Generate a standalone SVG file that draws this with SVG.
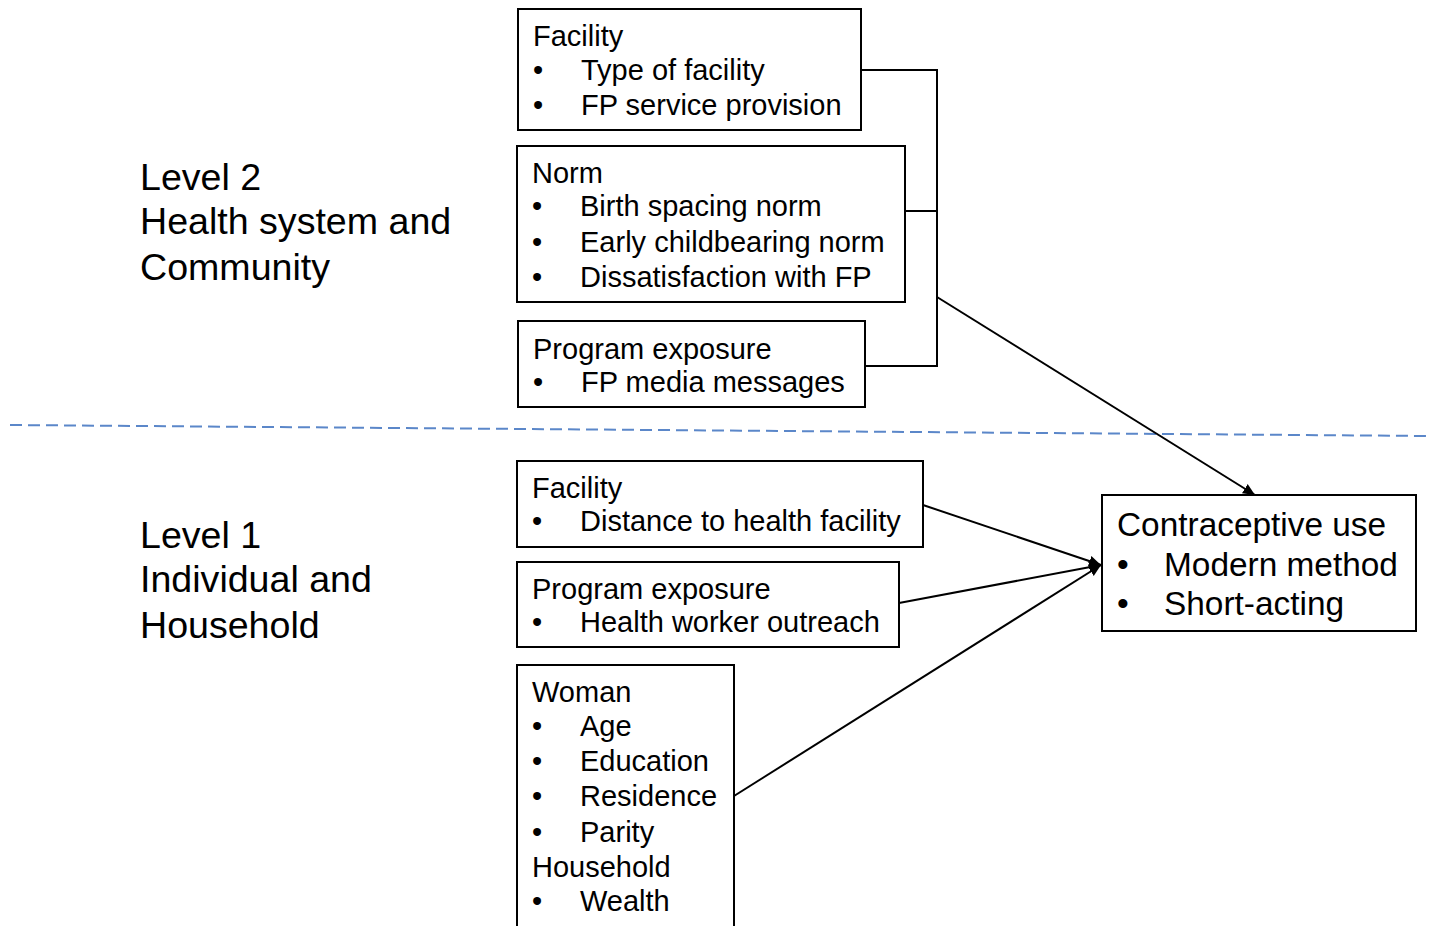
<svg xmlns="http://www.w3.org/2000/svg" width="1429" height="926" viewBox="0 0 1429 926">
<defs>
<style>
text{font-family:"Liberation Sans",Arial,sans-serif;fill:#000}
.b{font-size:29px}
.c{font-size:33.4px}
.l{font-size:37.6px}
.box{fill:#fff;stroke:#000;stroke-width:2}
.con{fill:none;stroke:#000;stroke-width:2}
</style>
<marker id="ah" viewBox="0 0 10 10" refX="10" refY="5" markerWidth="12" markerHeight="12" markerUnits="userSpaceOnUse" orient="auto"><path d="M0,0.5L10,5L0,9.5z" fill="#000"/></marker>
</defs>
<rect width="1429" height="926" fill="#fff"/>
<line x1="10" y1="425" x2="1429" y2="436" stroke="#5B87C9" stroke-width="2" stroke-dasharray="12,6"/>
<g id="labels">
<text class="l" x="140" y="190">Level 2</text>
<text class="l" x="140" y="234">Health system and</text>
<text class="l" x="140" y="280">Community</text>
<text class="l" x="140" y="548">Level 1</text>
<text class="l" x="140" y="592">Individual and</text>
<text class="l" x="140" y="638">Household</text>
</g>
<g id="connectors">
<polyline class="con" points="861,70 937,70 937,366 865,366"/>
<line class="con" x1="905" y1="211" x2="937" y2="211"/>
<line class="con" x1="937" y1="297" x2="1255" y2="495" marker-end="url(#ah)"/>
<line class="con" x1="923" y1="505" x2="1101" y2="565" marker-end="url(#ah)"/>
<line class="con" x1="899" y1="603" x2="1101" y2="565" marker-end="url(#ah)"/>
<line class="con" x1="734" y1="796" x2="1101" y2="565" marker-end="url(#ah)"/>
</g>
<g id="facility2">
<rect class="box" x="518" y="9" width="343" height="121"/>
<text class="b" x="533" y="46">Facility</text>
<text class="b" x="533" y="80">•</text><text class="b" x="581" y="80">Type of facility</text>
<text class="b" x="533" y="115">•</text><text class="b" x="581" y="115">FP service provision</text>
</g>
<g id="norm">
<rect class="box" x="517" y="146" width="388" height="156"/>
<text class="b" x="532" y="183">Norm</text>
<text class="b" x="532" y="216">•</text><text class="b" x="580" y="216">Birth spacing norm</text>
<text class="b" x="532" y="252">•</text><text class="b" x="580" y="252">Early childbearing norm</text>
<text class="b" x="532" y="287">•</text><text class="b" x="580" y="287">Dissatisfaction with FP</text>
</g>
<g id="program2">
<rect class="box" x="518" y="321" width="347" height="86"/>
<text class="b" x="533" y="359">Program exposure</text>
<text class="b" x="533" y="392">•</text><text class="b" x="581" y="392">FP media messages</text>
</g>
<g id="facility1">
<rect class="box" x="517" y="461" width="406" height="86"/>
<text class="b" x="532" y="498">Facility</text>
<text class="b" x="532" y="531">•</text><text class="b" x="580" y="531">Distance to health facility</text>
</g>
<g id="program1">
<rect class="box" x="517" y="562" width="382" height="85"/>
<text class="b" x="532" y="599">Program exposure</text>
<text class="b" x="532" y="632">•</text><text class="b" x="580" y="632">Health worker outreach</text>
</g>
<g id="woman">
<rect class="box" x="517" y="665" width="217" height="275"/>
<text class="b" x="532" y="702">Woman</text>
<text class="b" x="532" y="736">•</text><text class="b" x="580" y="736">Age</text>
<text class="b" x="532" y="771">•</text><text class="b" x="580" y="771">Education</text>
<text class="b" x="532" y="806">•</text><text class="b" x="580" y="806">Residence</text>
<text class="b" x="532" y="842">•</text><text class="b" x="580" y="842">Parity</text>
<text class="b" x="532" y="877">Household</text>
<text class="b" x="532" y="911">•</text><text class="b" x="580" y="911">Wealth</text>
</g>
<g id="outcome">
<rect class="box" x="1102" y="495" width="314" height="136"/>
<text class="c" x="1117" y="536">Contraceptive use</text>
<text class="c" x="1117" y="576">•</text><text class="c" x="1164" y="576">Modern method</text>
<text class="c" x="1117" y="615">•</text><text class="c" x="1164" y="615">Short-acting</text>
</g>
</svg>
